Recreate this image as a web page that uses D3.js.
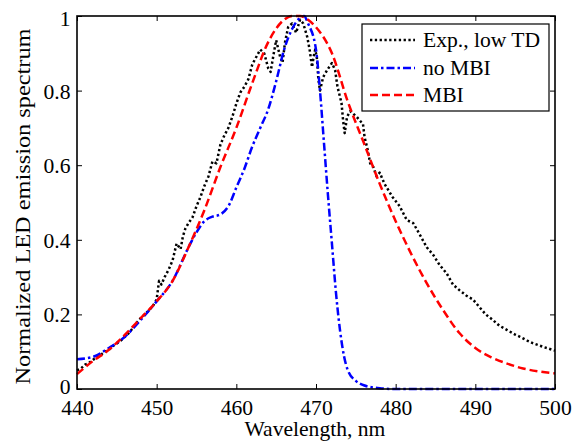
<!DOCTYPE html>
<html>
<head>
<meta charset="utf-8">
<script src="https://cdn.jsdelivr.net/npm/d3@7/dist/d3.min.js"></script>
<style>
  html, body { margin: 0; padding: 0; background: #fff; }
  svg { display: block; }
  svg text { font-family: "Liberation Serif", "Times New Roman", Times, "DejaVu Serif", serif; fill: #000; }
</style>
</head>
<body>
<svg id="chart" width="582" height="442"></svg>
<script>
// ---- data ----
const xTicks = [440, 450, 460, 470, 480, 490, 500];
const yTicks = [0, 0.2, 0.4, 0.6, 0.8, 1];
const legendLabels = ["Exp., low TD", "no MBI", "MBI"];
const xLabel = "Wavelength, nm";
const yLabel = "Normalized LED emission spectrum";

const expWl = [440, 440.5, 441, 441.5, 442, 442.5, 443, 443.5, 444, 444.5, 445, 445.5, 446, 446.5, 447, 447.5, 448, 448.5, 449, 449.5, 450, 450.3, 450.6, 451, 451.5, 452, 452.5, 453, 453.3, 453.6, 454, 454.5, 455, 455.5, 456, 456.5, 457, 457.5, 458, 458.5, 459, 459.5, 460, 460.5, 461, 461.5, 462, 462.5, 463, 463.5, 464, 464.3, 464.7, 465, 465.5, 465.8, 466.1, 466.5, 467, 467.5, 468, 468.4, 468.9, 469.2, 469.5, 469.7, 469.9, 470.1, 470.3, 470.5, 470.9, 471.4, 472, 472.4, 472.7, 473.2, 473.4, 473.6, 473.9, 474.3, 475.1, 475.9, 476.1, 476.5, 476.8, 477.2, 477.6, 478, 478.6, 479.6, 480.5, 481.4, 482.2, 483, 483.9, 484.7, 485.5, 486.4, 487.2, 488, 488.9, 489.7, 490.5, 491.3, 492.2, 493, 494, 495, 495.6, 496.5, 497.2, 498.5, 499.7, 500];
const expVal = [0.05, 0.055, 0.065, 0.07, 0.078, 0.085, 0.092, 0.1, 0.105, 0.115, 0.122, 0.13, 0.14, 0.15, 0.163, 0.178, 0.19, 0.2, 0.21, 0.222, 0.24, 0.29, 0.28, 0.3, 0.32, 0.345, 0.39, 0.375, 0.41, 0.43, 0.445, 0.46, 0.49, 0.515, 0.545, 0.57, 0.61, 0.605, 0.655, 0.68, 0.7, 0.73, 0.765, 0.795, 0.81, 0.83, 0.87, 0.89, 0.91, 0.9, 0.86, 0.85, 0.9, 0.935, 0.89, 0.875, 0.928, 0.97, 0.98, 0.955, 0.99, 0.98, 0.944, 0.91, 0.863, 0.89, 0.91, 0.89, 0.83, 0.8, 0.836, 0.855, 0.874, 0.855, 0.81, 0.767, 0.72, 0.686, 0.73, 0.745, 0.73, 0.71, 0.675, 0.64, 0.605, 0.595, 0.57, 0.58, 0.55, 0.515, 0.49, 0.453, 0.445, 0.415, 0.38, 0.36, 0.333, 0.31, 0.28, 0.265, 0.25, 0.24, 0.22, 0.2, 0.185, 0.17, 0.158, 0.146, 0.14, 0.13, 0.123, 0.113, 0.105, 0.103];

const noMbiWl = [440, 441, 442, 444, 446, 448, 450, 452, 454, 455, 456, 457, 458, 459, 460, 461, 462, 463, 464, 465, 466, 467, 468, 468.5, 469, 470, 470.5, 471, 471.5, 472, 472.5, 473, 473.5, 474, 475, 476, 478, 480, 490, 500];
const noMbiVal = [0.08, 0.082, 0.086, 0.11, 0.14, 0.185, 0.235, 0.29, 0.38, 0.42, 0.45, 0.462, 0.468, 0.49, 0.54, 0.59, 0.65, 0.7, 0.75, 0.825, 0.91, 0.965, 0.995, 1.0, 0.98, 0.91, 0.8, 0.66, 0.52, 0.39, 0.26, 0.16, 0.09, 0.05, 0.022, 0.01, 0.002, 0, 0, 0];

const mbiWl = [440, 442, 444, 446, 448, 450, 452, 454, 456, 458, 460, 462, 464, 466, 467, 468, 469, 470, 472, 474, 476, 478, 480, 482, 484, 486, 488, 490, 492, 494, 496, 498, 500];
const mbiVal = [0.04, 0.075, 0.105, 0.145, 0.19, 0.235, 0.29, 0.38, 0.48, 0.595, 0.7, 0.82, 0.93, 0.99, 1.0, 1.0, 0.99, 0.97, 0.9, 0.77, 0.66, 0.55, 0.45, 0.36, 0.28, 0.21, 0.15, 0.11, 0.085, 0.068, 0.055, 0.047, 0.042];

// ---- layout ----
const L = 77, R = 555, T = 16, B = 389;
const SX = 1.08; // horizontal text stretch
const FONT = "'Liberation Serif', 'Times New Roman', Times, 'DejaVu Serif', serif";
const svg = d3.select("#chart");

const x = d3.scaleLinear().domain([440, 500]).range([L, R]);
const y = d3.scaleLinear().domain([0, 1]).range([B, T]);

svg.append("rect").attr("x", L).attr("y", T).attr("width", R - L).attr("height", B - T).attr("fill", "#fff");

// ---- series ----
const series = [
  { wl: expWl, val: expVal, color: "#000", dash: "2.3,2.5", width: 2.5, curve: d3.curveLinear },
  { wl: noMbiWl, val: noMbiVal, color: "#0000ff", dash: "8,3,2.5,3", width: 2.5, curve: d3.curveMonotoneX },
  { wl: mbiWl, val: mbiVal, color: "#ff0000", dash: "8,4", width: 2.5, curve: d3.curveMonotoneX }
];

series.forEach(s => {
  const pts = s.wl.map((w, i) => [w, s.val[i]]);
  const line = d3.line().x(d => x(d[0])).y(d => y(d[1])).curve(s.curve);
  svg.append("path")
    .datum(pts)
    .attr("d", line)
    .attr("fill", "none")
    .attr("stroke", s.color)
    .attr("stroke-width", s.width)
    .attr("stroke-dasharray", s.dash)
    .attr("stroke-linecap", "butt")
    .attr("stroke-linejoin", "round");
});

// ---- axes (inward ticks, box) ----
const fmt = d => (d === 0 ? "0" : d === 1 ? "1" : d3.format(".1f")(d));

const gx = svg.append("g").attr("transform", `translate(0,${B})`)
  .call(d3.axisBottom(x).tickValues(xTicks).tickSizeInner(-5).tickSizeOuter(0).tickPadding(12).tickFormat(d3.format("d")));
const gy = svg.append("g").attr("transform", `translate(${L},0)`)
  .call(d3.axisLeft(y).tickValues(yTicks).tickSizeInner(-5).tickSizeOuter(0).tickPadding(6).tickFormat(fmt));
const gxt = svg.append("g").attr("transform", `translate(0,${T})`)
  .call(d3.axisTop(x).tickValues(xTicks).tickSizeInner(-5).tickSizeOuter(0).tickFormat(""));
const gyr = svg.append("g").attr("transform", `translate(${R},0)`)
  .call(d3.axisRight(y).tickValues(yTicks).tickSizeInner(-5).tickSizeOuter(0).tickFormat(""));

[gx, gy, gxt, gyr].forEach(g => {
  g.select(".domain").remove();
  g.selectAll("line").attr("stroke", "#000").attr("stroke-width", 1);
  g.selectAll("text")
    .attr("font-size", 20)
    .attr("font-family", FONT)
    .attr("fill", "#000");
});
gx.selectAll("text").attr("transform", `scale(${SX},1)`);
gy.selectAll("text").attr("dy", "0.37em").attr("transform", `scale(${SX},1)`);
gy.selectAll(".tick").filter(d => d === 1).select("text").attr("dy", "0.47em");
gy.selectAll(".tick").filter(d => d === 0).select("text").attr("dy", "0.22em");

svg.append("rect").attr("x", L).attr("y", T).attr("width", R - L).attr("height", B - T)
  .attr("fill", "none").attr("stroke", "#000").attr("stroke-width", 1.6);

// ---- axis labels ----
svg.append("text")
  .attr("x", (L + R) / 2 / SX - 1).attr("y", 436)
  .attr("text-anchor", "middle").attr("font-size", 20)
  .attr("font-family", FONT)
  .attr("transform", `scale(${SX},1)`)
  .text(xLabel);

svg.append("text")
  .attr("transform", `translate(30,${(T + B) / 2 + 4}) rotate(-90)`)
  .attr("text-anchor", "middle").attr("font-size", 21)
  .attr("font-family", FONT)
  .attr("textLength", 356).attr("lengthAdjust", "spacingAndGlyphs")
  .text(yLabel);

// ---- legend ----
const lg = svg.append("g");
lg.append("rect").attr("x", 362).attr("y", 24).attr("width", 187).attr("height", 87)
  .attr("fill", "#fff").attr("stroke", "#000").attr("stroke-width", 1.2);
const rowY = [40, 68, 95];
series.forEach((s, i) => {
  lg.append("line")
    .attr("x1", 370).attr("x2", 415).attr("y1", rowY[i]).attr("y2", rowY[i])
    .attr("stroke", s.color).attr("stroke-width", s.width)
    .attr("stroke-dasharray", s.dash);
  lg.append("text")
    .attr("x", 423 / SX).attr("y", rowY[i] + 7)
    .attr("font-size", 20)
    .attr("font-family", FONT)
    .attr("transform", `scale(${SX},1)`)
    .text(legendLabels[i]);
});
</script>
</body>
</html>
